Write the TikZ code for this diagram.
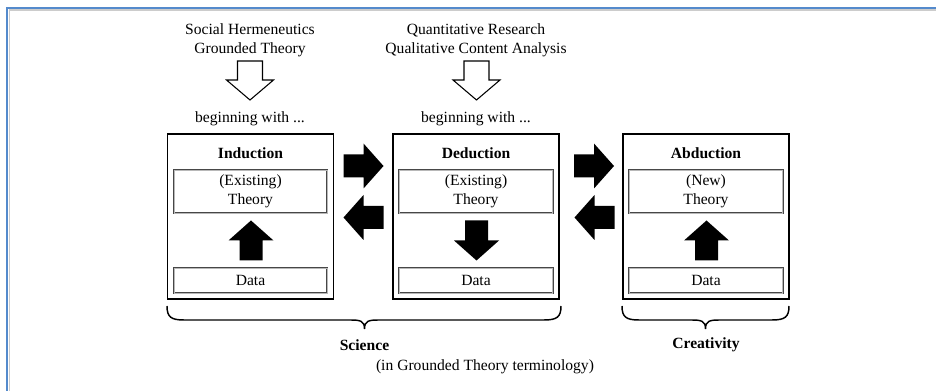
\documentclass[tikz,border=0pt]{standalone}
\usepackage{fontspec}
\setmainfont{Liberation Serif}
\definecolor{frameblue}{RGB}{84,138,204}
\newcommand\mybrace[4]{% x-left, x-middle, x-right, name of the label node below
  \draw[bracestyle] (#1,306) .. controls (#1,317) and (#1+4,320) .. (#1+17,320)
    -- (#2-14,320) .. controls (#2-4,320) and (#2,321) .. (#2,329)
    .. controls (#2,321) and (#2+4,320) .. (#2+14,320)
    -- (#3-17,320) .. controls (#3-4,320) and (#3,317) .. (#3,306);}
\begin{document}
\begin{tikzpicture}[x=0.75pt,y=-0.75pt,
  font=\fontsize{11.7}{14.25}\selectfont,
  outerbox/.style={draw=black, line width=1.4pt, minimum width=124.5pt,
    minimum height=123.75pt, inner sep=0pt},
  innerbox/.style={draw=black!72, line width=0.5pt, double=black!28,
    double distance=0.45pt, minimum width=115pt, inner sep=0pt, align=center},
  theorybox/.style={innerbox, minimum height=32pt},
  databox/.style={innerbox, minimum height=18.5pt},
  title/.style={font=\fontsize{11.7}{14.25}\selectfont\bfseries},
  label/.style={align=center, inner sep=0pt},
  bracestyle/.style={line width=1.1pt},
  blockarrow/.pic={\fill[black] (-20,-11.5) -- (0,-11.5) -- (0,-22.5) -- (20,0)
    -- (0,22.5) -- (0,11.5) -- (-20,11.5) -- cycle;},
  openarrow/.pic={\draw[line width=0.8pt, fill=white, line join=miter]
    (-12.5,-19.5) -- (12.5,-19.5) -- (12.5,-0.5) -- (23.5,-0.5) -- (0,19.5)
    -- (-23.5,-0.5) -- (-12.5,-0.5) -- cycle;}
]
\useasboundingbox (0,0) rectangle (936,391);
\fill[white] (0,0) rectangle (936,391);

% page frame (top and left edges)
\draw[black!20, line width=0.8pt] (9.5,391) -- (9.5,10) -- (936,10);
\draw[frameblue, line width=1.9pt] (7,391) -- (7,8) -- (936,8);

% method labels on top
\node[label] (srcA) at (250,40.5) {Social Hermeneutics\\Grounded Theory};
\node[label] (srcB) at (476,40.5) {Quantitative Research\\Qualitative Content Analysis};
\pic at (250,80.5) {openarrow};
\pic at (476.5,80.5) {openarrow};
\node[label] (begA) at (250,119) {beginning with ...};
\node[label] (begB) at (476,119) {beginning with ...};

% the three ways of reasoning
\node[outerbox] (ind) at (250.5,216.5) {};
\node[outerbox] (ded) at (476,216.5) {};
\node[outerbox] (abd) at (706,216.5) {};

\node[title] (indT) at (250.5,153) {Induction};
\node[title] (dedT) at (476,153) {Deduction};
\node[title] (abdT) at (706,153) {Abduction};

\node[theorybox] (indTh) at (250.5,191.5) {(Existing)\\Theory};
\node[theorybox] (dedTh) at (476,191.5) {(Existing)\\Theory};
\node[theorybox] (abdTh) at (706,191.5) {(New)\\Theory};

\node[databox] (indD) at (250.5,280.5) {Data};
\node[databox] (dedD) at (476,280.5) {Data};
\node[databox] (abdD) at (706,280.5) {Data};

% direction inside each box
\pic[rotate=90] at (251,240.5) {blockarrow};
\pic[rotate=-90] at (476.5,240.5) {blockarrow};
\pic[rotate=90] at (706.5,240.5) {blockarrow};

% transitions between the boxes
\pic at (363.5,166) {blockarrow};
\pic[rotate=180] at (363.5,217.5) {blockarrow};
\pic at (594,166) {blockarrow};
\pic[rotate=180] at (594.5,217.5) {blockarrow};

% groupings
\mybrace{167}{364.5}{561}{sci}
\mybrace{622}{705.5}{789}{cre}
\node[title] (sci) at (364.5,345) {Science};
\node[label] (sciN) at (485,367) {(in Grounded Theory terminology)};
\node[title] (cre) at (706,345) {Creativity};
\end{tikzpicture}
\end{document}
